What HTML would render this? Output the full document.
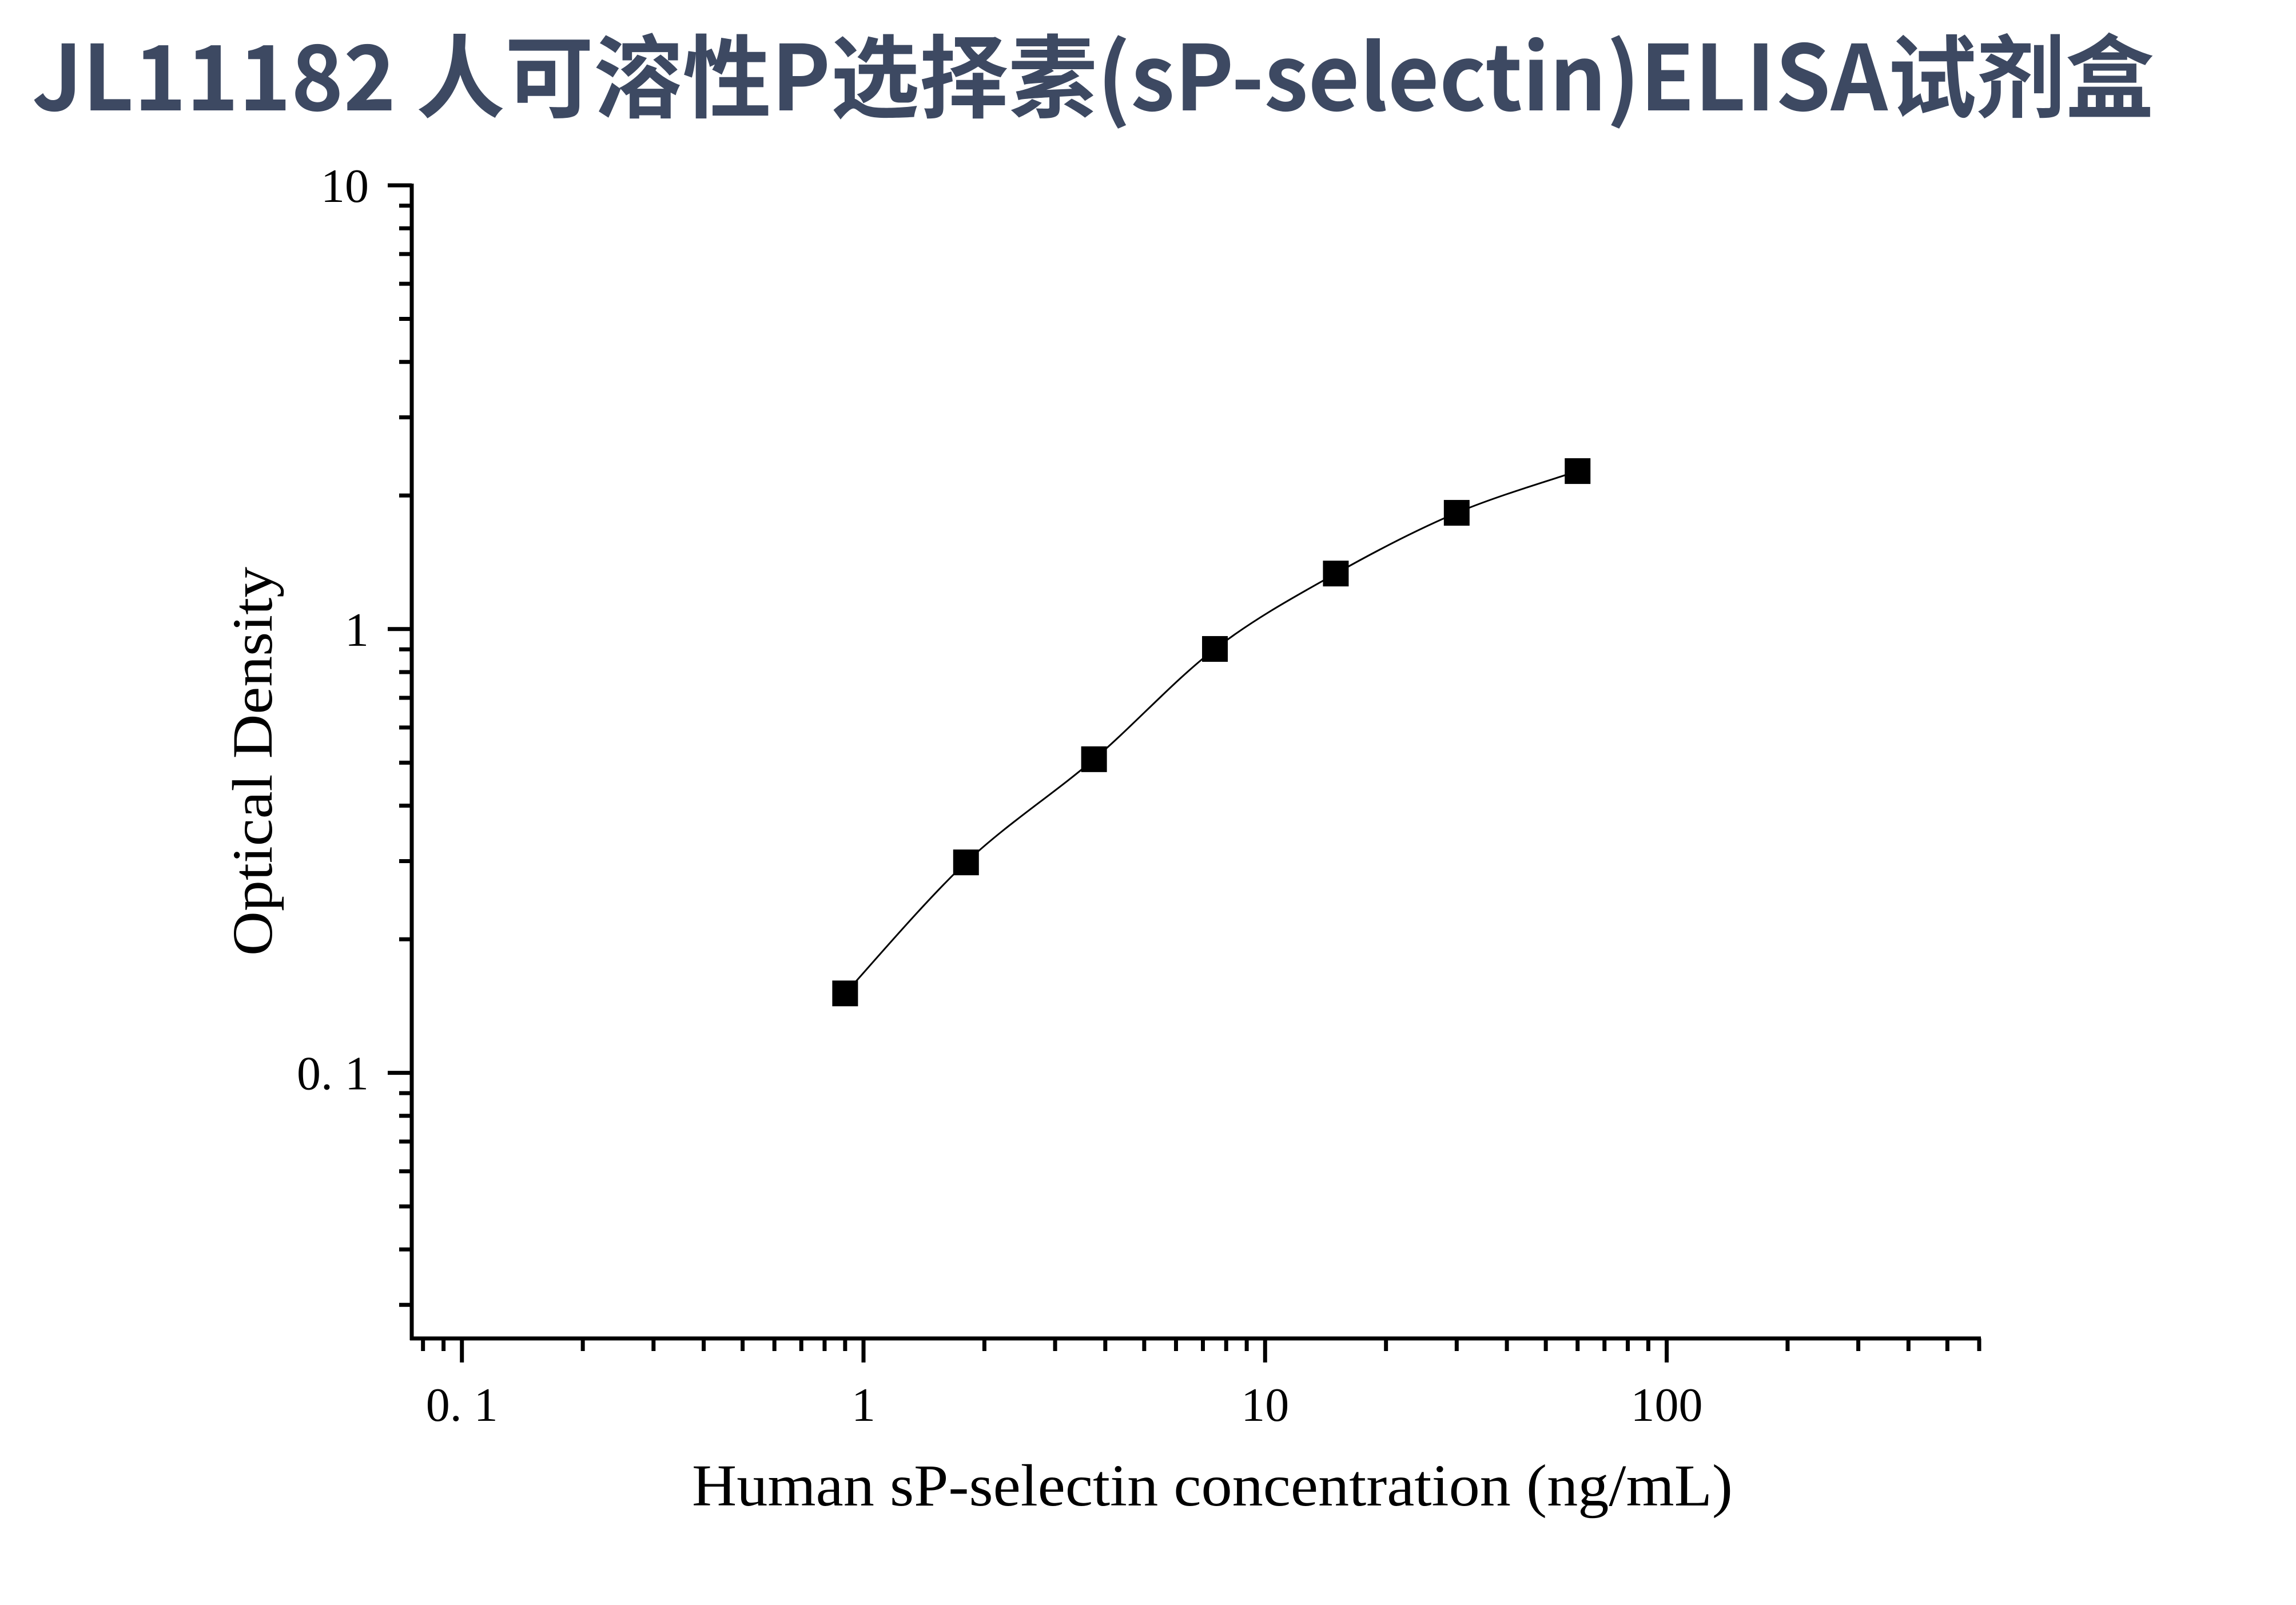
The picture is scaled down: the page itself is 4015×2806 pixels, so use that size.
<!DOCTYPE html>
<html><head><meta charset="utf-8"><style>
html,body{margin:0;padding:0;background:#fff;}
svg{display:block;}
</style></head><body>
<svg id="chart" width="4015" height="2806" viewBox="0 0 4015 2806" xmlns="http://www.w3.org/2000/svg">
<rect width="4015" height="2806" fill="#fff"/>
<text x="56" y="193" font-family="'Noto Sans CJK SC','Liberation Sans',sans-serif" font-weight="bold" font-size="158" fill="#3d4962" textLength="3711" lengthAdjust="spacingAndGlyphs">JL11182 人可溶性P选择素(sP-selectin)ELISA试剂盒</text>
<g id="axes"></g>
<g id="series"></g>
<text x="2120" y="2632" text-anchor="middle" font-family="'Liberation Serif',serif" font-size="104" fill="#000" textLength="1820" lengthAdjust="spacingAndGlyphs">Human sP-selectin concentration (ng/mL)</text>
<text transform="translate(475,1331) rotate(-90)" text-anchor="middle" font-family="'Liberation Serif',serif" font-size="100" fill="#000" textLength="680" lengthAdjust="spacingAndGlyphs">Optical Density</text>
</svg>
<script>
const concentrations = [0.9, 1.8, 3.75, 7.5, 15, 30, 60];
const odValues = [0.151, 0.298, 0.509, 0.902, 1.334, 1.828, 2.27];
const xTickValues = [0.1, 1, 10, 100];
const xTickLabels = ["0. 1", "1", "10", "100"];
const yTickValues = [0.1, 1, 10];
const yTickLabels = ["0. 1", "1", "10"];
const xDomain = [0.075, 600];
const yDomain = [0.0252, 10];

const NS = "http://www.w3.org/2000/svg";
const X0 = 720, X1 = 3461, Y0 = 2340, Y1 = 324;
function xs(v){ return X0 + (Math.log10(v) - Math.log10(xDomain[0])) / (Math.log10(xDomain[1]) - Math.log10(xDomain[0])) * (X1 - X0); }
function ys(v){ return Y0 - (Math.log10(v) - Math.log10(yDomain[0])) / (Math.log10(yDomain[1]) - Math.log10(yDomain[0])) * (Y0 - Y1); }
function mk(tag, attrs, parent){ const e = document.createElementNS(NS, tag); for (const k in attrs) e.setAttribute(k, attrs[k]); parent.appendChild(e); return e; }

const axes = document.getElementById('axes');
let el;
el = mk('line', {x1: X0, y1: Y1 - 3, x2: X0, y2: Y0 + 3, stroke: '#000', 'stroke-width': 7}, axes);


el = mk('line', {x1: X0 - 3, y1: Y0, x2: X1 + 3, y2: Y0, stroke: '#000', 'stroke-width': 7}, axes);



for (let d = -2; d <= 2; d++) {
  for (let m = 1; m <= 9; m++) {
    const v = m * Math.pow(10, d);
    if (v < xDomain[0] - 1e-9 || v > xDomain[1] + 1e-9) continue;
    const x = xs(v);
    const len = m === 1 ? 42 : 22;
    el = mk('line', {x1: x, y1: Y0, x2: x, y2: Y0 + len, stroke: '#000', 'stroke-width': 7}, axes);
    
    
  }
}
xTickValues.forEach((v, i) => {
  const t = mk('text', {x: xs(v), y: 2484, 'text-anchor': 'middle', 'font-family': "'Liberation Serif',serif", 'font-size': 84, fill: '#000'}, axes);
  t.textContent = xTickLabels[i];
  
  
});
for (let d = -2; d <= 1; d++) {
  for (let m = 1; m <= 9; m++) {
    const v = m * Math.pow(10, d);
    if (v < yDomain[0] - 1e-9 || v > yDomain[1] + 1e-9) continue;
    const y = ys(v);
    const len = m === 1 ? 42 : 22;
    el = mk('line', {x1: X0, y1: y, x2: X0 - len, y2: y, stroke: '#000', 'stroke-width': 7}, axes);
    
    
  }
}
yTickValues.forEach((v, i) => {
  const t = mk('text', {x: 645, y: ys(v) + 29, 'text-anchor': 'end', 'font-family': "'Liberation Serif',serif", 'font-size': 84, fill: '#000'}, axes);
  t.textContent = yTickLabels[i];
  
  
});

const series = document.getElementById('series');
const pts = concentrations.map((c, i) => [xs(c), ys(odValues[i])]);
let d = 'M' + pts[0][0] + ',' + pts[0][1];
for (let i = 0; i < pts.length - 1; i++) {
  const p0 = pts[Math.max(0, i - 1)], p1 = pts[i], p2 = pts[i + 1], p3 = pts[Math.min(pts.length - 1, i + 2)];
  const c1 = [p1[0] + (p2[0] - p0[0]) / 6, p1[1] + (p2[1] - p0[1]) / 6];
  const c2 = [p2[0] - (p3[0] - p1[0]) / 6, p2[1] - (p3[1] - p1[1]) / 6];
  d += ' C' + c1[0] + ',' + c1[1] + ' ' + c2[0] + ',' + c2[1] + ' ' + p2[0] + ',' + p2[1];
}
el = mk('path', {d: d, fill: 'none', stroke: '#000', 'stroke-width': 3}, series);


pts.forEach(p => {
  const r = mk('rect', {x: p[0] - 22.5, y: p[1] - 22.5, width: 45, height: 45, fill: '#000'}, series);
  
  
});
</script>
</body></html>
